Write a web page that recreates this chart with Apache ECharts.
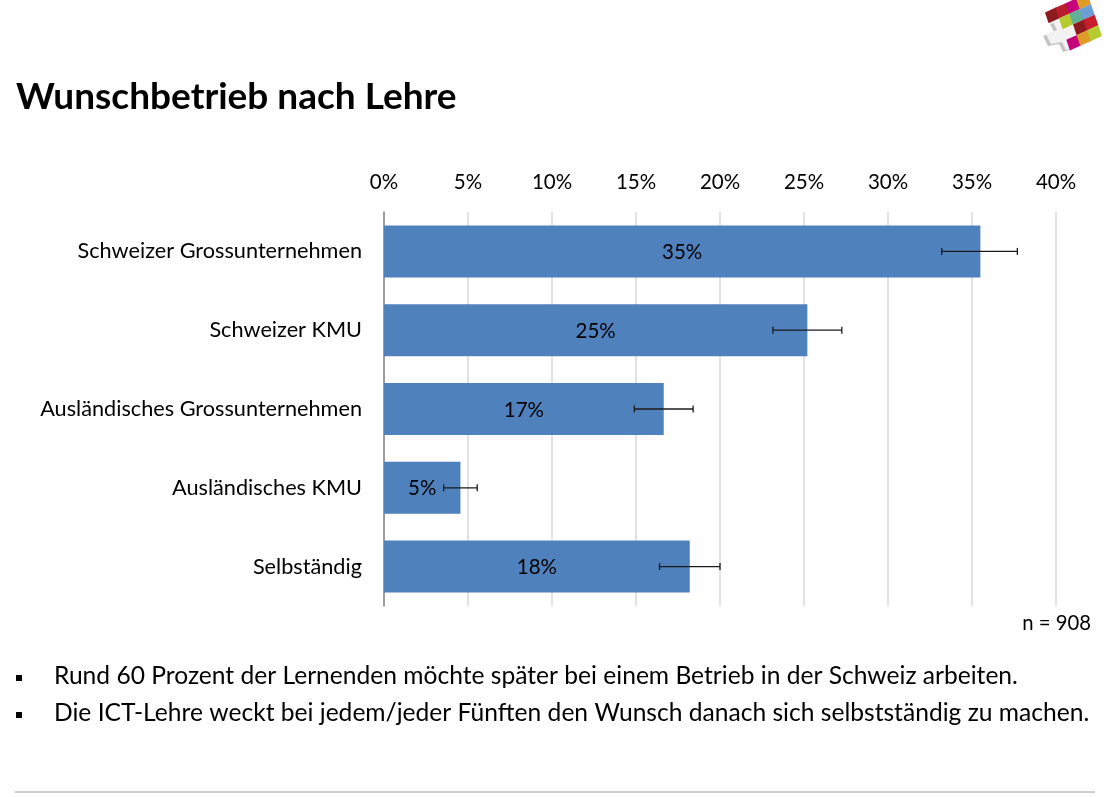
<!DOCTYPE html>
<html lang="de">
  <head>
    <meta charset="UTF-8" />
    <title>Wunschbetrieb nach Lehre</title>
    <style>
      * {
        margin: 0;
        padding: 0;
      }
      body {
        background: #fff;
      }
      #main {
        width: 1118px;
        height: 797px;
      }
    </style>
  </head>
  <body>
    <div id="main"></div>
    <script src="https://cdn.jsdelivr.net/npm/echarts@6/dist/echarts.min.js"></script>
    <script>
      // Daten
      const categories = [
        "Schweizer Grossunternehmen",
        "Schweizer KMU",
        "Ausländisches Grossunternehmen",
        "Ausländisches KMU",
        "Selbständig",
      ];
      const shares = [35.5, 25.2, 16.65, 4.55, 18.2];
      const shareLabels = ["35%", "25%", "17%", "5%", "18%"];
      const errorLow = [33.2, 23.15, 14.9, 3.55, 16.4];
      const errorHigh = [37.7, 27.25, 18.4, 5.55, 20.0];
      const bullets = [
        "Rund 60 Prozent der Lernenden möchte später bei einem Betrieb in der Schweiz arbeiten.",
        "Die ICT-Lehre weckt bei jedem/jeder Fünften den Wunsch danach sich selbstständig zu machen.",
      ];

      const fontName = "Lato";
      const myChart = echarts.init(document.getElementById("main"));

      // Logo oben rechts: schräges Raster aus farbigen Feldern
      const logoCell = (row, col, color) => {
        const cx = 1053 + col * 10.33 + row * 3.67;
        const cy = 15 - col * 4.67 + row * 10.67;
        const corner = (a, b) => [cx + a * 10.33 + b * 3.67, cy - a * 4.67 + b * 10.67];
        return {
          type: "polygon",
          shape: {
            points: [corner(-0.6, -0.5), corner(0.5, -0.5), corner(0.5, 0.5), corner(-0.6, 0.5)],
          },
          style: { fill: color },
        };
      };
      const logo = [
        {
          type: "polygon",
          shape: { points: [[1050, 24], [1062, 20], [1076, 38], [1070, 39], [1072, 49], [1063, 52], [1059, 44], [1048, 46], [1043, 36], [1054, 32]] },
          style: { fill: "#c4c4c4" },
        },
        {
          type: "polygon",
          shape: { points: [[1053, 22], [1065, 18], [1079, 35], [1073, 37], [1075, 47], [1066, 50], [1062, 42], [1051, 44], [1046, 34], [1057, 30]] },
          style: { fill: "#f2f2f2" },
        },
        logoCell(0, 0, "#8e1a1e"),
        logoCell(0, 1, "#b81f2b"),
        logoCell(0, 2, "#c4007a"),
        logoCell(0, 3, "#e09a26"),
        logoCell(1, 1, "#b5cb2f"),
        logoCell(1, 2, "#62b196"),
        logoCell(1, 3, "#6c9fd6"),
        logoCell(2, 2, "#8e1a1e"),
        logoCell(2, 3, "#c81e2c"),
        logoCell(3, 1, "#c4007a"),
        logoCell(3, 2, "#e09a26"),
        logoCell(3, 3, "#b5cb2f"),
      ];

      const bulletText = bullets.flatMap((line, i) => [
        {
          type: "rect",
          shape: { x: 16, y: 675 + i * 37, width: 6, height: 6 },
          style: { fill: "#000" },
        },
        {
          type: "text",
          style: {
            x: 54,
            y: 676 + i * 37,
            text: line,
            fill: "#000",
            font: "24.6px '" + fontName + "'",
            textVerticalAlign: "middle",
          },
        },
      ]);

      const option = {
        backgroundColor: "#fff",
        animation: false,
        textStyle: { fontFamily: fontName },
        title: {
          text: "Wunschbetrieb nach Lehre",
          left: 11,
          top: 74,
          textStyle: { fontSize: 37, fontWeight: "bold", color: "#000", fontFamily: fontName },
        },
        grid: { left: 384, right: 62, top: 212, height: 394 },
        xAxis: {
          type: "value",
          position: "top",
          min: 0,
          max: 40,
          interval: 5,
          axisLine: { show: false },
          axisTick: { show: false },
          axisLabel: { color: "#000", fontSize: 20.5, margin: 19, formatter: "{value}%" },
          splitLine: { lineStyle: { color: "#d9d9d9", width: 1.5 } },
        },
        yAxis: {
          type: "category",
          inverse: true,
          data: categories,
          axisLine: { lineStyle: { color: "#868686", width: 1.5 } },
          axisTick: { show: false },
          axisLabel: { color: "#000", fontSize: 21.7, margin: 22 },
        },
        series: [
          {
            type: "bar",
            data: shares,
            barWidth: 52,
            z: 2,
            itemStyle: { color: "#4f81bd" },
            label: {
              show: true,
              position: "inside",
              offset: [0, 1],
              color: "#000",
              fontSize: 20.5,
              formatter: (p) => shareLabels[p.dataIndex],
            },
          },
          {
            // Fehlerbalken
            type: "custom",
            z: 3,
            data: errorLow.map((low, i) => [low, errorHigh[i], i]),
            encode: { x: [0, 1], y: 2 },
            renderItem: (params, api) => {
              const a = api.coord([api.value(0), api.value(2)]);
              const b = api.coord([api.value(1), api.value(2)]);
              const style = { stroke: "#1a1a1a", lineWidth: 1.3 };
              return {
                type: "group",
                children: [
                  { type: "line", shape: { x1: a[0], y1: a[1], x2: b[0], y2: b[1] }, style },
                  { type: "line", shape: { x1: a[0], y1: a[1] - 3.5, x2: a[0], y2: a[1] + 3.5 }, style },
                  { type: "line", shape: { x1: b[0], y1: b[1] - 3.5, x2: b[0], y2: b[1] + 3.5 }, style },
                ],
              };
            },
          },
        ],
        graphic: [
          ...logo,
          ...bulletText,
          {
            type: "text",
            style: {
              x: 1091,
              y: 623,
              text: "n = 908",
              fill: "#000",
              font: "20.3px '" + fontName + "'",
              textAlign: "right",
              textVerticalAlign: "middle",
            },
          },
          {
            type: "line",
            shape: { x1: 15, y1: 792, x2: 1095, y2: 792 },
            style: { stroke: "#bfbfbf", lineWidth: 1.5 },
          },
        ],
      };

      myChart.setOption(option);
    </script>
  </body>
</html>
